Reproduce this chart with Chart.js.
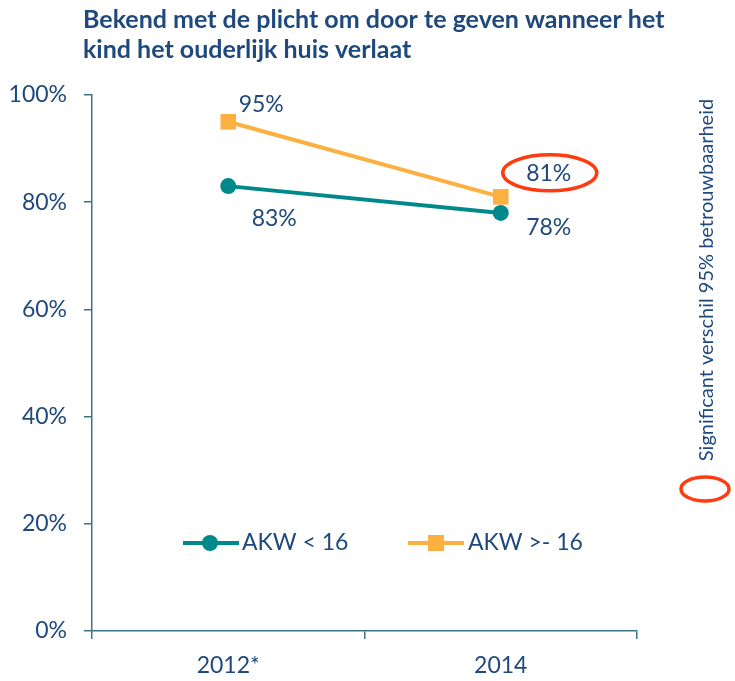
<!DOCTYPE html>
<html>
<head>
<meta charset="utf-8">
<script src="https://cdn.jsdelivr.net/npm/chart.js@4"></script>
<style>
  html, body { margin: 0; padding: 0; background: #fff; }
  #chart { display: block; }
</style>
</head>
<body>
<canvas id="chart" width="735" height="681"></canvas>
<script>
// data
const years = ['2012*', '2014'];
const akwUnder16 = [83, 78];
const akwOver16 = [95, 81];
const yTicks = [0, 20, 40, 60, 80, 100];

const titleLines = ['Bekend met de plicht om door te geven wanneer het', 'kind het ouderlijk huis verlaat'];
const sideNote = 'Significant verschil 95% betrouwbaarheid';

const TEXT = '#1f497d';
const TEAL = '#00898c';
const ORANGE = '#fbb040';
const AXIS = '#3e7385';
const RED = '#ff3b0f';
const FONT = 'Lato, "Open Sans", sans-serif';

// title, labels, legend, notes
const extras = {
  id: 'extras',
  afterDatasetsDraw(chart) {
    const ctx = chart.ctx;
    const x = chart.scales.x, y = chart.scales.y;
    ctx.save();

    // title
    ctx.fillStyle = TEXT;
    ctx.font = 'bold 25px ' + FONT;
    ctx.textBaseline = 'middle';
    ctx.textAlign = 'left';
    ctx.fillText(titleLines[0], 83, 20);
    ctx.fillText(titleLines[1], 83, 50);

    // value labels
    ctx.font = '23px ' + FONT;
    ctx.textAlign = 'center';
    const lab = (v, i, dx, dy) => {
      ctx.fillText(v + '%', x.getPixelForValue(i) + dx, y.getPixelForValue(v) + dy);
    };
    lab(akwOver16[0], 0, 33, -17);
    lab(akwUnder16[0], 0, 46, 32);
    lab(akwOver16[1], 1, 48, -23);
    lab(akwUnder16[1], 1, 48, 15);

    // red ellipse round 2014 label
    ctx.strokeStyle = RED;
    ctx.lineWidth = 3.5;
    ctx.beginPath();
    ctx.ellipse(x.getPixelForValue(1) + 49, y.getPixelForValue(akwOver16[1]) - 24, 47, 18, 0, 0, Math.PI * 2);
    ctx.stroke();

    // legend
    const ly = 543;
    ctx.lineWidth = 4;
    ctx.strokeStyle = TEAL;
    ctx.beginPath(); ctx.moveTo(183, ly); ctx.lineTo(239, ly); ctx.stroke();
    ctx.fillStyle = TEAL;
    ctx.beginPath(); ctx.arc(210, ly, 8, 0, Math.PI * 2); ctx.fill();
    ctx.strokeStyle = ORANGE;
    ctx.beginPath(); ctx.moveTo(408, ly); ctx.lineTo(464, ly); ctx.stroke();
    ctx.fillStyle = ORANGE;
    ctx.fillRect(428, ly - 8, 16, 16);
    ctx.fillStyle = TEXT;
    ctx.textAlign = 'left';
    ctx.fillText('AKW < 16', 242, ly);
    ctx.fillText('AKW >- 16', 468, ly);

    // side note
    ctx.save();
    ctx.translate(707, 280);
    ctx.rotate(-Math.PI / 2);
    ctx.font = '20px ' + FONT;
    ctx.textAlign = 'center';
    ctx.fillText(sideNote, 0, 0);
    ctx.restore();
    ctx.strokeStyle = RED;
    ctx.lineWidth = 3.5;
    ctx.beginPath();
    ctx.ellipse(705, 489, 24, 12, 0, 0, Math.PI * 2);
    ctx.stroke();

    ctx.restore();
  }
};

new Chart(document.getElementById('chart'), {
  type: 'line',
  data: {
    labels: years,
    datasets: [
      {
        label: 'AKW < 16',
        data: akwUnder16,
        borderColor: TEAL,
        backgroundColor: TEAL,
        borderWidth: 4,
        pointStyle: 'circle',
        pointRadius: 8,
        pointBorderWidth: 0,
        tension: 0
      },
      {
        label: 'AKW >- 16',
        data: akwOver16,
        borderColor: ORANGE,
        backgroundColor: ORANGE,
        borderWidth: 4,
        pointStyle: 'rect',
        pointRadius: 11,
        pointBorderWidth: 0,
        tension: 0
      }
    ]
  },
  options: {
    responsive: false,
    animation: false,
    layout: { padding: { left: 0, right: 98, top: 95, bottom: 0 } },
    plugins: {
      legend: { display: false },
      tooltip: { enabled: false },
      title: { display: false }
    },
    scales: {
      x: {
        offset: true,
        grid: { offset: true, drawOnChartArea: false, drawTicks: true, tickLength: 8, color: AXIS, lineWidth: 1.5 },
        border: { color: AXIS, width: 1.5 },
        ticks: { color: TEXT, font: { family: FONT, size: 23 }, padding: 13 },
        afterFit(s) { s.height = 50; }
      },
      y: {
        min: 0,
        max: 100,
        afterBuildTicks(s) { s.ticks = yTicks.map(v => ({ value: v })); },
        grid: { drawOnChartArea: false, drawTicks: true, tickLength: 8, color: AXIS, lineWidth: 1.5 },
        border: { color: AXIS, width: 1.5 },
        ticks: { color: TEXT, font: { family: FONT, size: 23 }, padding: 17, callback: v => v + '%' },
        afterFit(s) { s.width = 92; }
      }
    }
  },
  plugins: [extras]
});
</script>
</body>
</html>
